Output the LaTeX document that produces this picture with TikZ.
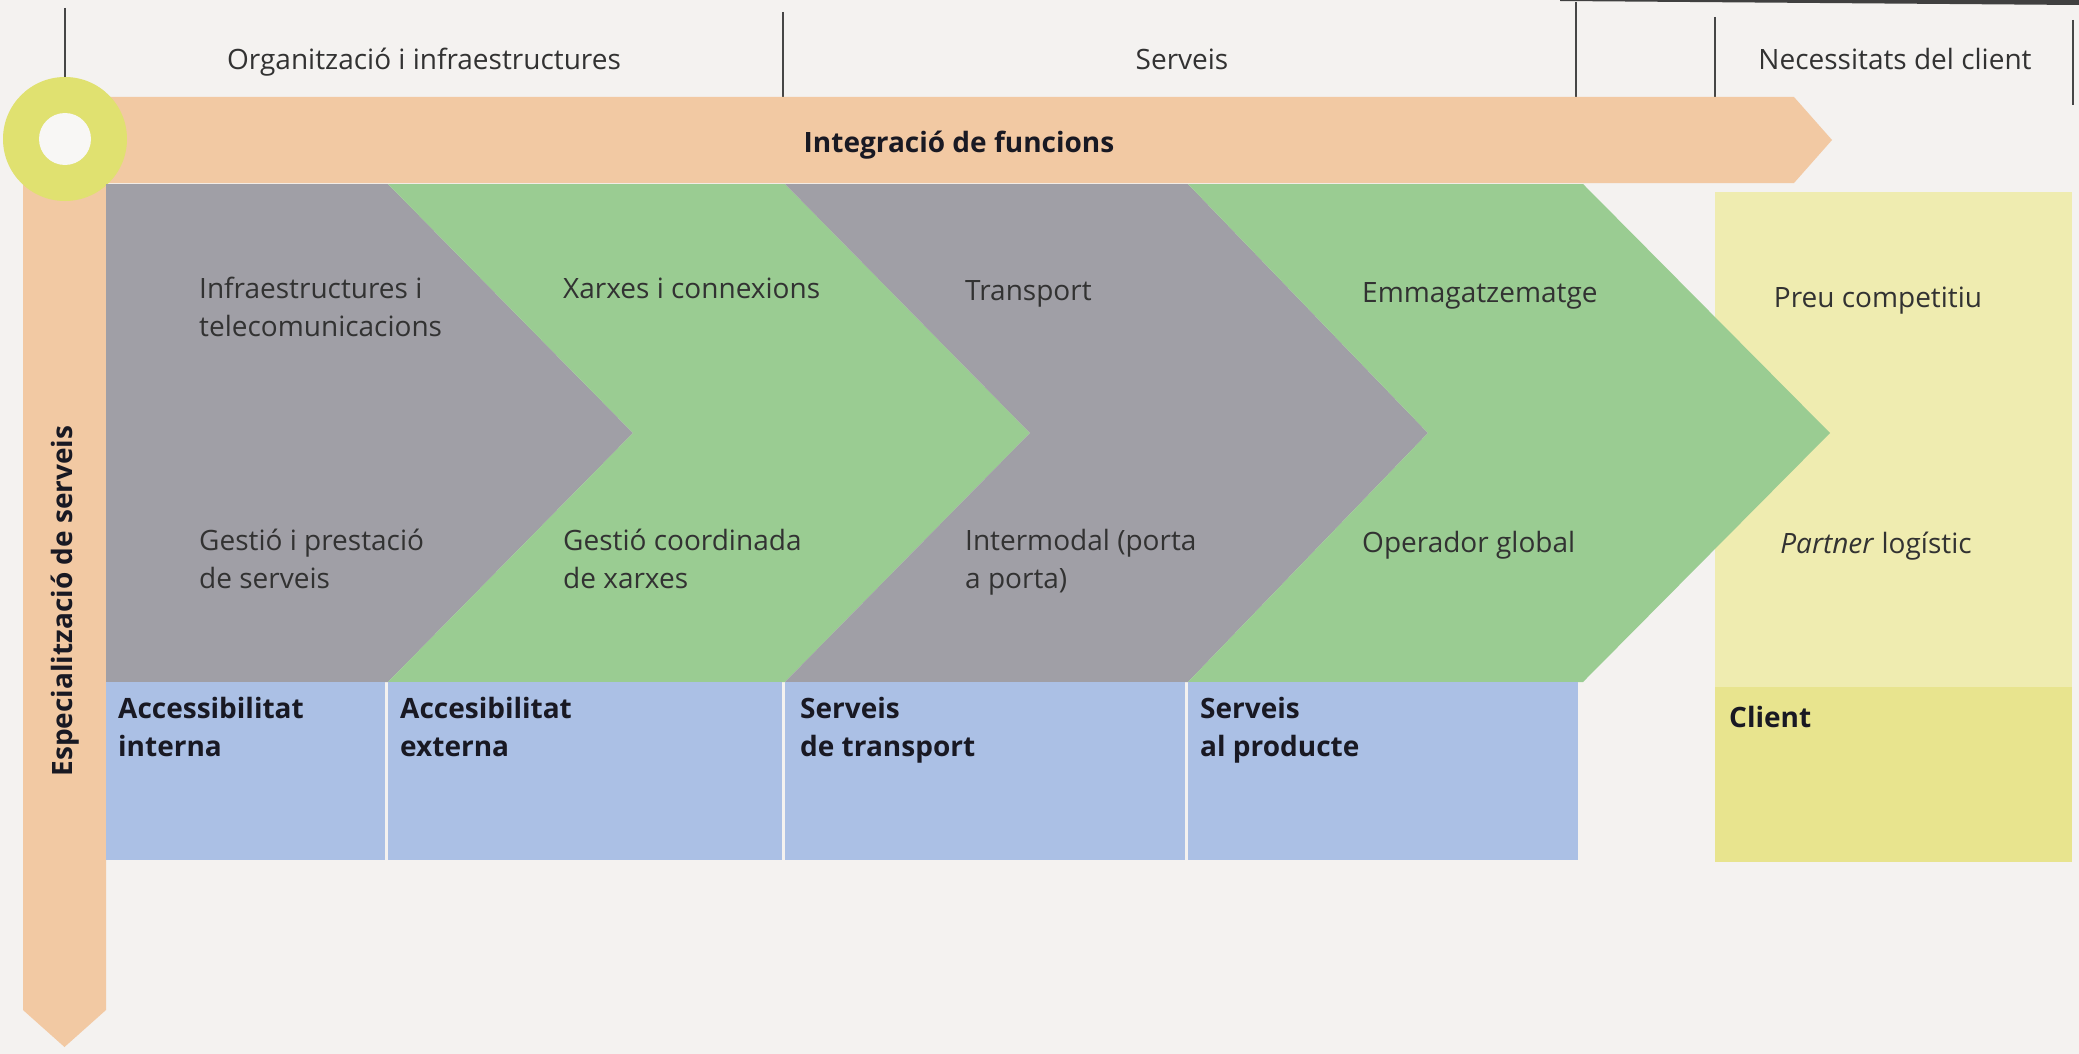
\documentclass[tikz,border=0pt]{standalone}
\usepackage{fontspec}
\setmainfont{Open Sans}
\definecolor{bg}{RGB}{244,242,240}
\definecolor{hole}{RGB}{248,247,245}
\definecolor{orng}{RGB}{242,201,163}
\definecolor{ringc}{RGB}{224,225,112}
\definecolor{gry}{RGB}{160,159,166}
\definecolor{grn}{RGB}{154,204,146}
\definecolor{blu}{RGB}{171,192,229}
\definecolor{ylw}{RGB}{239,236,176}
\definecolor{ylwb}{RGB}{232,228,142}
\definecolor{txt}{RGB}{50,50,50}
\definecolor{txtb}{RGB}{25,25,35}
\definecolor{hline}{RGB}{70,70,70}
\begin{document}
\begin{tikzpicture}[x=1pt,y=-1pt,
  lbl/.style={anchor=base west, inner sep=0pt, align=left, text=txt, font=\fontsize{28}{38}\selectfont},
  blbl/.style={lbl, text=txtb, font=\fontsize{28}{38}\selectfont\bfseries},
  hdr/.style={anchor=base, inner sep=0pt, text=txt, font=\fontsize{28}{38}\selectfont},
  sepline/.style={line width=2.5pt, draw=hline},
  blubox/.style={fill=blu}]
\fill[bg] (0,0) rectangle (2079,1054);
\useasboundingbox (0,0) rectangle (2079,1054);
% scan edge at top right
\fill[black!75] (1560,0) -- (2079,0) -- (2079,5) -- (1560,1) -- cycle;
% header separators
\coordinate (s1a) at (65,8);   \coordinate (s1b) at (65,77);
\coordinate (s2a) at (783,12); \coordinate (s2b) at (783,97);
\coordinate (s3a) at (1576,2); \coordinate (s3b) at (1576,100);
\coordinate (s4a) at (1715,17);\coordinate (s4b) at (1715,102);
\coordinate (s5a) at (2073,20);\coordinate (s5b) at (2073,105);
\draw[sepline] (s1a) -- (s1b);
\draw[sepline] (s2a) -- (s2b);
\draw[sepline] (s3a) -- (s3b);
\draw[sepline] (s4a) -- (s4b);
\draw[sepline] (s5a) -- (s5b);
\node[hdr] (h1) at (424,70) {Organització i infraestructures};
\node[hdr] (h2) at (1182,70) {Serveis};
\node[hdr] (h3) at (1895,70) {Necessitats del client};
% right panel
\fill[ylw] (1715,192) rectangle (2072,687);
\fill[ylwb] (1715,687) rectangle (2072,862);
% orange arrows
\fill[orng] (65,97) -- (1794,97) -- (1832,140) -- (1794,183) -- (65,183) -- cycle;
\fill[orng] (23,139) -- (106,139) -- (106,1010) -- (64.5,1047) -- (23,1010) -- cycle;
% ring
\fill[ringc] (65,139) circle (62);
\fill[hole] (65,139) circle (26);
% chevrons
\fill[gry] (106,184) -- (388,184) -- (633,433) -- (388,682) -- (106,682) -- cycle;
\fill[grn] (388,184) -- (785,184) -- (1030,433) -- (785,682) -- (388,682) -- (633,433) -- cycle;
\fill[gry] (785,184) -- (1188,184) -- (1428,433) -- (1188,682) -- (785,682) -- (1030,433) -- cycle;
\fill[grn] (1188,184) -- (1583,184) -- (1830,433) -- (1583,682) -- (1188,682) -- (1428,433) -- cycle;
% blue boxes
\fill[blubox] (106,682) rectangle (385,860);
\fill[blubox] (388,682) rectangle (782,860);
\fill[blubox] (785,682) rectangle (1185,860);
\fill[blubox] (1188,682) rectangle (1578,860);
% arrow labels
\node[anchor=base, inner sep=0pt, text=txtb, font=\fontsize{28}{38}\selectfont\bfseries] (int) at (959,152) {Integració de funcions};
\node[anchor=base, inner sep=0pt, text=txtb, rotate=90, font=\fontsize{28}{38}\selectfont\bfseries] (esp) at (72,601) {Especialització de serveis};
% chevron texts (base = last line)
\node[lbl] (c1a) at (199,336) {Infraestructures i\\telecomunicacions};
\node[lbl] (c1b) at (199,588) {Gestió i prestació\\de serveis};
\node[lbl] (c2a) at (563,298) {Xarxes i connexions};
\node[lbl] (c2b) at (563,588) {Gestió coordinada\\de xarxes};
\node[lbl] (c3a) at (965,300) {Transport};
\node[lbl] (c3b) at (965,588) {Intermodal (porta\\a porta)};
\node[lbl] (c4a) at (1362,302) {Emmagatzematge};
\node[lbl] (c4b) at (1362,552) {Operador global};
\node[lbl, anchor=base] (r1) at (1878,307) {Preu competitiu};
\node[lbl, anchor=base] (r2) at (1876,553) {\textit{Partner} logístic};
% blue texts
\node[blbl] (b1) at (118,756) {Accessibilitat\\interna};
\node[blbl] (b2) at (400,756) {Accesibilitat\\externa};
\node[blbl] (b3) at (800,756) {Serveis\\de transport};
\node[blbl] (b4) at (1200,756) {Serveis\\al producte};
\node[blbl] (cl) at (1729,727) {Client};
\end{tikzpicture}
\end{document}
